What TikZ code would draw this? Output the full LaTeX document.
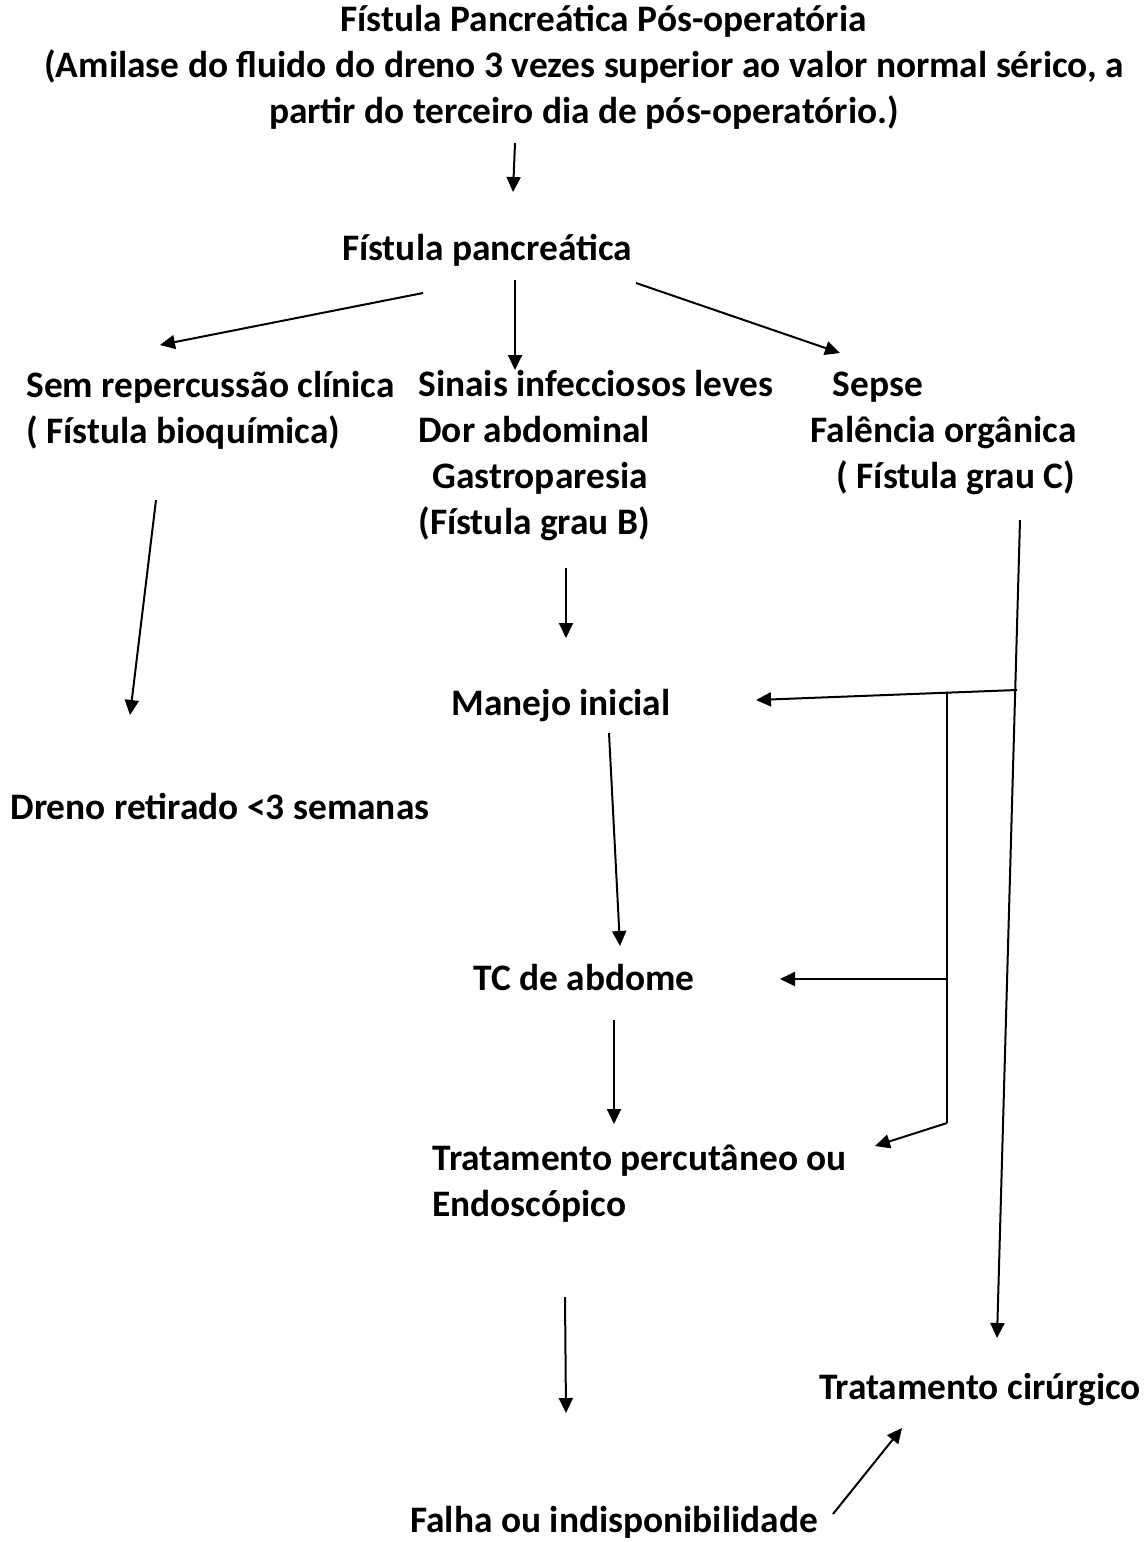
\documentclass[tikz,border=0pt]{standalone}
\usepackage{fontspec}
\setmainfont{Carlito}
\usetikzlibrary{arrows.meta,positioning,calc}

\begin{document}
\begin{tikzpicture}[
  x=0.5pt,y=-0.5pt,
  txt/.style={font=\fontsize{18.7}{23}\selectfont\bfseries,inner sep=0pt,align=left},
  ctxt/.style={txt,align=center},
  arr/.style={-{Triangle[length=7.5pt,width=7pt]},line width=1pt},
  link/.style={line width=0.8pt}
]
\useasboundingbox (0,0) rectangle (1147,1542);
\node[ctxt] (titulo) at (584,67) {\hspace*{1.05em}Fístula Pancreática Pós-operatória\\(Amilase do fluido do dreno 3 vezes superior ao valor normal sérico, a\\partir do terceiro dia de pós-operatório.)};
\node[ctxt] (fistula) at (487,250) {Fístula pancreática};
\node[txt,anchor=west] (semrep) at (26,410) {Sem repercussão clínica\\( Fístula bioquímica)};
\node[txt,anchor=west] (sinais) at (418,456) {Sinais infecciosos leves\\Dor abdominal\\\hspace*{0.37em}Gastroparesia\\(Fístula grau B)};
\node[txt,anchor=west] (sepse) at (810,433) {\hspace*{0.6em}Sepse\\Falência orgânica\\\hspace*{0.7em}( Fístula grau C)};
\node[ctxt] (dreno) at (220,806) {Dreno retirado <3 semanas};
\node[ctxt] (manejo) at (561,706) {Manejo inicial};
\node[ctxt] (tc) at (584,978) {TC de abdome};
\node[txt,anchor=west] (tratamento) at (432,1184) {Tratamento percutâneo ou\\Endoscópico};
\node[ctxt] (falha) at (614,1522) {Falha ou indisponibilidade};
\node[ctxt] (cirurgico) at (980,1390) {Tratamento cirúrgico};
\coordinate (ramo) at (1017,690);
\coordinate (topo) at (947,692);
\coordinate (meio) at (947,979);
\coordinate (base) at (947,1123);
\draw[arr] ($(titulo)+(-69,76)$) -- ($(fistula)+(26,-58)$);
\draw[arr] ($(fistula)+(-64,43)$) -- ($(semrep.west)+(134,-65)$);
\draw[arr] ($(fistula)+(28,30)$) -- ($(sinais.west)+(97,-86)$);
\draw[arr] ($(fistula)+(149,33)$) -- ($(sepse.west)+(30,-80)$);
\draw[arr] ($(semrep.west)+(130,90)$) -- ($(dreno)+(-90,-91)$);
\draw[arr] ($(sinais.west)+(148,112)$) -- ($(manejo)+(5,-68)$);
\draw[arr] ($(manejo)+(48,27)$) -- ($(tc)+(36,-32)$);
\draw[arr] ($(tc)+(30,42)$) -- ($(tratamento.west)+(182,-60)$);
\draw[arr] ($(tratamento.west)+(133,113)$) -- ($(falha)+(-48,-109)$);
\draw[arr] ($(falha)+(219,-8)$) -- ($(cirurgico)+(-78,38)$);
\draw[arr] ($(sepse.west)+(210,87)$) -- ($(cirurgico)+(17,-52)$);
\draw[arr] (ramo) -- ($(manejo)+(195,-6)$);
\draw[link] (topo) -- (base);
\draw[arr] (meio) -- ($(tc)+(196,1)$);
\draw[arr] (base) -- ($(tratamento.west)+(443,-38)$);
\end{tikzpicture}
\end{document}
